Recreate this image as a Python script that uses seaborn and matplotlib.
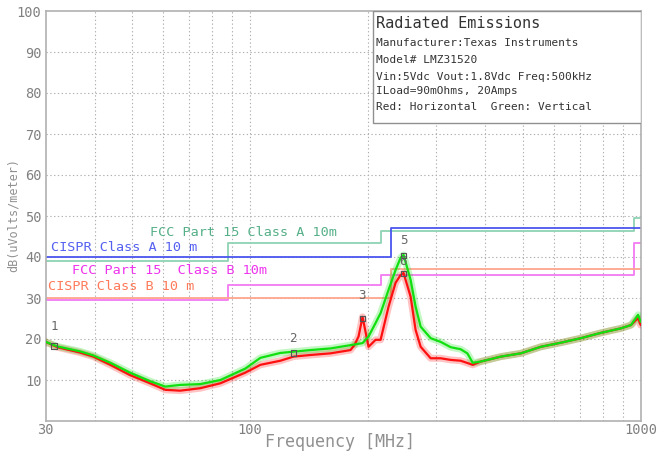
import numpy as np
import pandas as pd
import matplotlib
matplotlib.use("Agg")
import matplotlib.pyplot as plt
import seaborn as sns

h_freq = [30, 32.1, 36.7, 39.7, 43.9, 49.3, 55.5, 60.7, 66.3, 74.6, 84.0, 97.3, 106.3,
          119.6, 129.2, 142.8, 160.7, 180.8, 185.0, 189.6, 194.1, 201.1, 209.6, 215.9,
          226.3, 235.8, 242.9, 247.2, 257.7, 265.4, 273.4, 290.0, 307.6, 326.3, 346.1,
          371.7, 389.6, 438.4, 493.3, 555.2, 624.8, 703.0, 791.2, 890.3, 944.4, 984.4, 1000]
h_level = [19.3, 18.0, 16.7, 15.7, 13.7, 11.2, 9.2, 7.6, 7.4, 8.0, 9.2, 11.8, 13.7,
           14.7, 15.7, 16.1, 16.5, 17.3, 18.5, 20.6, 25.4, 18.1, 19.8, 19.8,
           27.9, 33.7, 35.6, 36.1, 30.3, 22.2, 18.1, 15.3, 15.3, 14.9, 14.7,
           13.7, 14.5, 15.7, 16.5, 18.1, 19.1, 20.2, 21.5, 22.6, 23.4, 25.1, 23.4]

v_freq = [30, 32.1, 36.7, 39.7, 43.9, 49.3, 55.5, 60.7, 66.3, 74.6, 84.0, 97.3, 106.3,
          119.6, 129.2, 142.8, 160.7, 180.8, 194.1, 201.1, 209.6, 215.9, 226.3, 235.8,
          242.9, 247.2, 257.7, 265.4, 273.4, 290.0, 307.6, 326.3, 346.1, 360.0, 371.7,
          389.6, 438.4, 493.3, 555.2, 624.8, 703.0, 791.2, 890.3, 944.4, 984.4, 1000]
v_level = [19.3, 18.2, 17.0, 16.0, 14.2, 11.8, 9.7, 8.4, 8.8, 9.0, 10.0, 12.8, 15.4,
           16.6, 16.9, 17.3, 17.7, 18.5, 19.0, 20.6, 23.9, 26.3, 32.0, 36.8,
           39.8, 40.5, 34.4, 27.9, 23.0, 20.2, 19.3, 18.0, 17.5, 16.5, 14.2,
           14.5, 15.7, 16.5, 18.1, 19.1, 20.2, 21.5, 22.6, 23.4, 25.9, 24.2]

# ---- limit lines ----
fcc_a_freq = [30, 88, 216, 960, 1000]
fcc_a_level = [39.0, 43.5, 46.4, 49.5, 49.5]
cispr_a_freq = [30, 230, 1000]
cispr_a_level = [40.0, 47.0, 47.0]
fcc_b_freq = [30, 88, 216, 960, 1000]
fcc_b_level = [29.5, 33.1, 35.6, 43.5, 43.5]
cispr_b_freq = [30, 230, 1000]
cispr_b_level = [30.0, 37.0, 37.0]

limit_names = ["FCC Part 15 Class A 10m", "CISPR Class A 10 m",
               "FCC Part 15  Class B 10m", "CISPR Class B 10 m"]
limit_colors = ["#8fd3b3", "#4a55ee", "#f27af2", "#ffa58c"]
label_colors = ["#55b088", "#5560f0", "#ee33ee", "#ff7a5a"]
label_freq = [55.5, 30.9, 35.1, 30.35]
label_level = [45.9, 42.4, 36.8, 32.8]

# ---- markers ----
marker_ids = ["1", "2", "3", "4", "5", "6"]
marker_freq = [31.5, 129.0, 194.0, 194.0, 247.0, 247.0]
marker_level = [18.3, 16.6, 25.0, 25.0, 40.3, 36.0]

x_ticks = [30, 100, 1000]
y_ticks = [10, 20, 30, 40, 50, 60, 70, 80, 90, 100]
info_title = "Radiated Emissions"
info_lines = ["Manufacturer:Texas Instruments", "Model# LMZ31520",
              "Vin:5Vdc Vout:1.8Vdc Freq:500kHz", "ILoad=90mOhms, 20Amps",
              "Red: Horizontal  Green: Vertical"]

sns.set_theme(style="white")
plt.rcParams["font.family"] = ["DejaVu Sans Mono", "DejaVu Sans"]

fig = plt.figure(figsize=(6.57, 4.57), dpi=100)
ax = fig.add_axes([45.7 / 657, 1 - 421 / 457, 595 / 657, 410 / 457])
ax.set_xscale("log")

grid_col = "#b0b0b0"
for gx in [40, 50, 60, 70, 80, 90, 100, 200, 300, 400, 500, 600, 700, 800, 900]:
    ax.axvline(gx, color=grid_col, lw=0.8, ls=(0, (1.2, 2.2)), zorder=0)
for gy in y_ticks[:-1]:
    ax.axhline(gy, color=grid_col, lw=0.8, ls=(0, (1.2, 2.2)), zorder=0)

# limit lines
lims = [(fcc_a_freq, fcc_a_level), (cispr_a_freq, cispr_a_level),
        (fcc_b_freq, fcc_b_level), (cispr_b_freq, cispr_b_level)]
for (fq, lv), name, col in zip(lims, limit_names, limit_colors):
    d = pd.DataFrame({"freq": fq, "level": lv})
    sns.lineplot(data=d, x="freq", y="level", ax=ax, color=col, lw=1.3,
                 drawstyle="steps-post", sort=False, zorder=2)
for name, f, l, c in zip(limit_names, label_freq, label_level, label_colors):
    ax.text(f, l, name, color=c, fontsize=9.7, va="center", ha="left", zorder=3)

# traces
df = pd.concat([
    pd.DataFrame({"freq": h_freq, "level": h_level, "pol": "Horizontal"}),
    pd.DataFrame({"freq": v_freq, "level": v_level, "pol": "Vertical"}),
])
pal = {"Horizontal": "#ff1010", "Vertical": "#10e010"}
sns.lineplot(data=df, x="freq", y="level", hue="pol", palette=pal, ax=ax,
             lw=5, alpha=0.25, legend=False, zorder=3)
sns.lineplot(data=df, x="freq", y="level", hue="pol", palette=pal, ax=ax,
             lw=1.6, legend=False, zorder=4)

# markers
ax.scatter(marker_freq, marker_level, marker="s", s=14, facecolors="none",
           edgecolors="#555555", linewidths=0.8, zorder=5)
offs = [(0, 9), (0, 6), (0, 12), (0, 5), (0, 6), (0, 4)]
for mid, f, l, o in zip(marker_ids, marker_freq, marker_level, offs):
    if mid == "4":
        continue
    ax.annotate(mid, (f, l), xytext=o, textcoords="offset points", ha="center",
                va="bottom", fontsize=9, color="#666666", zorder=6)

ax.set_xlim(30, 1000)
ax.set_ylim(0, 100)
ax.set_xticks(x_ticks)
ax.set_xticklabels([str(t) for t in x_ticks])
ax.xaxis.set_minor_locator(matplotlib.ticker.NullLocator())
ax.set_yticks(y_ticks)
ax.set_yticklabels([str(t) for t in y_ticks])
ax.tick_params(axis="both", length=0, labelsize=9.8, colors="#808080")
ax.tick_params(axis="x", pad=1.5)
ax.tick_params(axis="y", pad=3)
ax.set_xlabel("Frequency [MHz]", fontsize=12, color="#909090")
ax.xaxis.set_label_coords((340 - 45.7) / 595, (421 - 442) / 410)
ax.xaxis.label.set_va("center")
ax.set_ylabel("dB(uVolts/meter)", fontsize=8.5, color="#909090")
ax.yaxis.set_label_coords((13 - 45.7) / 595, (421 - 215) / 410)
ax.yaxis.label.set_va("center")
for s in ax.spines.values():
    s.set_color("#b0b0b0")
    s.set_linewidth(1.2)

# info box
bx0 = (372.7 - 45.7) / 595
by0 = (421 - 122.7) / 410
ax.add_patch(plt.Rectangle((bx0, by0), 1 - bx0, 1 - by0, transform=ax.transAxes,
                           facecolor="white", edgecolor="#909090", lw=1.0, zorder=7))
tx = (376 - 45.7) / 595
ax.text(tx, (421 - 23) / 410, info_title, transform=ax.transAxes, fontsize=11,
        va="center", ha="left", color="#333333", zorder=8)
for i, line in enumerate(info_lines):
    yy = [43, 60, 77, 91, 107][i]
    ax.text(tx, (421 - yy) / 410, line, transform=ax.transAxes, fontsize=8,
            va="center", ha="left", color="#333333", zorder=8)

fig.savefig("out.png", dpi=100)
